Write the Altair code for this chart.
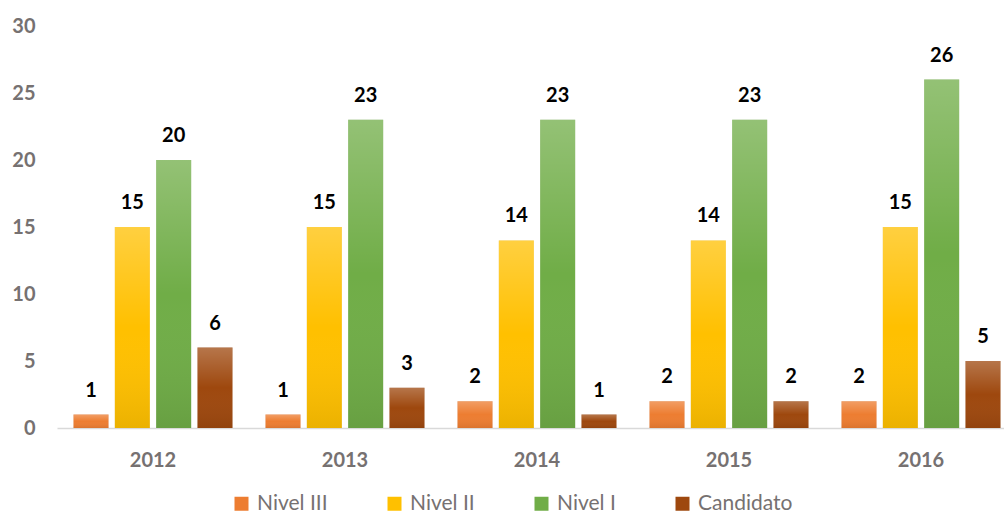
import altair as alt
import pandas as pd

years = ["2012", "2013", "2014", "2015", "2016"]
series = ["Nivel III", "Nivel II", "Nivel I", "Candidato"]
nivel3 = [1, 1, 2, 2, 2]
nivel2 = [15, 15, 14, 14, 15]
nivel1 = [20, 23, 23, 23, 26]
candidato = [6, 3, 1, 2, 5]
colors = ["#ED7D31", "#FFC000", "#70AD47", "#9E480E"]

rows = []
for s, vals in zip(series, [nivel3, nivel2, nivel1, candidato]):
    for y, v in zip(years, vals):
        rows.append({"year": y, "series": s, "value": v})
df = pd.DataFrame(rows)

FONT = "Lato"
GRAY = "#767171"

x_enc = alt.X("year:N", sort=years,
              scale=alt.Scale(range=[0, 960], paddingInner=0.172, paddingOuter=0.086),
              axis=alt.Axis(title=None, labelAngle=0, ticks=False, grid=False,
                            domainColor="#D9D9D9", domainWidth=1.5,
                            labelFont=FONT, labelFontWeight="bold", labelFontSize=20,
                            labelColor=GRAY, labelBaseline="middle", labelPadding=32))
xo_enc = alt.XOffset("series:N", sort=series,
                     scale=alt.Scale(paddingInner=0.153, paddingOuter=0))
y_enc = alt.Y("value:Q", scale=alt.Scale(domain=[0, 30], nice=False),
              axis=alt.Axis(title=None, values=[0, 5, 10, 15, 20, 25, 30], grid=False,
                            ticks=False, domain=False, labelFont=FONT,
                            labelFontWeight="bold", labelFontSize=20, labelColor=GRAY,
                            labelPadding=22))

base = alt.Chart(df)

shadow = base.mark_bar(color="#000000", opacity=0.10, xOffset=1.5, x2Offset=2.5,
                       y2Offset=1).encode(x=x_enc, xOffset=xo_enc, y=y_enc)

bars = base.mark_bar().encode(
    x=x_enc, xOffset=xo_enc, y=y_enc,
    color=alt.Color("series:N", sort=series,
                    scale=alt.Scale(domain=series, range=colors),
                    legend=alt.Legend(title=None, orient="none", direction="horizontal",
                                      legendX=174, legendY=467, symbolType="square",
                                      symbolSize=196, symbolStrokeWidth=0,
                                      labelFont=FONT, labelFontSize=21, labelColor=GRAY,
                                      labelOffset=5, columnPadding=56)),
)

grad = alt.Gradient(
    gradient="linear", x1=0, x2=0, y1=0, y2=1,
    stops=[alt.GradientStop(color="rgba(255,255,255,0.25)", offset=0),
           alt.GradientStop(color="rgba(255,255,255,0.0)", offset=0.5),
           alt.GradientStop(color="rgba(0,0,0,0.08)", offset=1)])
gloss = base.mark_bar(fill=grad).encode(x=x_enc, xOffset=xo_enc, y=y_enc)

labels = base.mark_text(baseline="alphabetic", dy=-18, font=FONT, fontWeight="bold",
                        fontSize=20, color="#000000").encode(
    x=x_enc, xOffset=xo_enc, y=y_enc, text="value:Q")

chart = alt.layer(shadow, bars, gloss, labels).properties(
    width=946, height=402,
    autosize=alt.AutoSizeParams(type="none"),
    padding={"left": 57, "top": 26, "right": 1, "bottom": 86},
).configure_view(stroke=None)

chart.save("out.html", embed_options={"renderer": "svg", "actions": False})
